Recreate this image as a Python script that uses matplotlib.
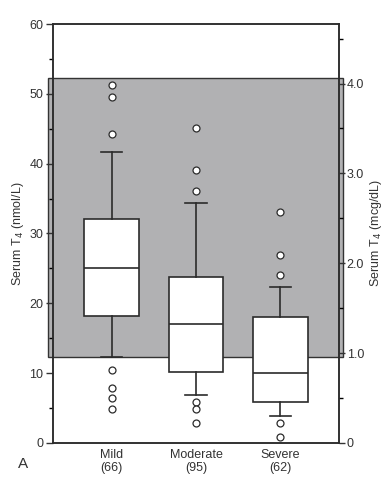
import matplotlib
matplotlib.use("Agg")
import matplotlib.pyplot as plt
from matplotlib.ticker import MultipleLocator, FixedLocator

plt.rcParams['font.family'] = ['Liberation Sans', 'DejaVu Sans']

# box statistics (nmol/L)
groups = ['Mild', 'Moderate', 'Severe']
counts = [66, 95, 62]
medians = [25.1, 17.0, 10.0]
q1 = [18.2, 10.2, 5.9]
q3 = [32.1, 23.8, 18.1]
whisker_low = [12.3, 6.8, 3.9]
whisker_high = [41.7, 34.4, 22.4]
outliers = [
    [51.2, 49.6, 44.2, 10.4, 7.9, 6.5, 4.8],
    [45.1, 39.1, 36.1, 5.8, 4.8, 2.9],
    [33.1, 26.9, 24.0, 2.9, 0.8],
]
# shaded reference range (nmol/L)
ref_low, ref_high = 12.3, 52.3
nmol_per_mcg = 12.87

stats = []
for i in range(len(groups)):
    stats.append({
        'med': medians[i], 'q1': q1[i], 'q3': q3[i],
        'whislo': whisker_low[i], 'whishi': whisker_high[i],
        'fliers': outliers[i], 'label': f"{groups[i]}\n({counts[i]})",
    })

fig = plt.figure(figsize=(3.92, 4.9), dpi=100)
ax = fig.add_axes([0.135, 0.096, 0.73, 0.855])

ax.axhspan(ref_low, ref_high, xmin=-0.017, xmax=1.014, facecolor='#b1b1b3',
           edgecolor='#333333', linewidth=1.0, clip_on=False, zorder=0)

dark = '#2b2b2b'
ax.bxp(stats, positions=[1, 2, 3], widths=0.65, patch_artist=True,
       boxprops=dict(facecolor='white', edgecolor=dark, linewidth=1.2),
       medianprops=dict(color=dark, linewidth=1.2),
       whiskerprops=dict(color=dark, linewidth=1.2),
       capprops=dict(color=dark, linewidth=1.2), capwidths=0.25,
       flierprops=dict(marker='o', markerfacecolor='white', markeredgecolor=dark,
                       markersize=5, markeredgewidth=0.9))

ax.set_xlim(0.3, 3.7)
ax.set_ylim(0, 60)
ax.yaxis.set_major_locator(MultipleLocator(10))
ax.yaxis.set_minor_locator(MultipleLocator(5))
ax.tick_params(axis='x', length=0, labelsize=9, colors='#333333', pad=4)
ax.tick_params(axis='y', which='major', length=5, width=1, labelsize=9, colors='#333333', pad=2)
ax.tick_params(axis='y', which='minor', length=3, width=1)
ax.set_ylabel('Serum T$_4$ (nmol/L)', fontsize=9, color='#333333', labelpad=2)
for s in ax.spines.values():
    s.set_linewidth(1.1)
    s.set_color(dark)

ax2 = ax.twinx()
ax2.set_ylim(0, 60 / nmol_per_mcg)
ax2.yaxis.set_major_locator(FixedLocator([0, 1, 2, 3, 4]))
ax2.yaxis.set_minor_locator(FixedLocator([0.5, 1.5, 2.5, 3.5, 4.5]))
ax2.set_yticklabels(['0', '1.0', '2.0', '3.0', '4.0'])
ax2.tick_params(axis='y', which='major', length=4, width=1, labelsize=9, colors='#333333', pad=1.5)
ax2.tick_params(axis='y', which='minor', length=3, width=1)
ax2.set_ylabel('Serum T$_4$ (mcg/dL)', fontsize=9, color='#333333', labelpad=3)
for s in ax2.spines.values():
    s.set_linewidth(1.1)
    s.set_color(dark)

fig.text(0.045, 0.045, 'A', fontsize=11, color='#333333')

fig.savefig('out.png', dpi=100)
